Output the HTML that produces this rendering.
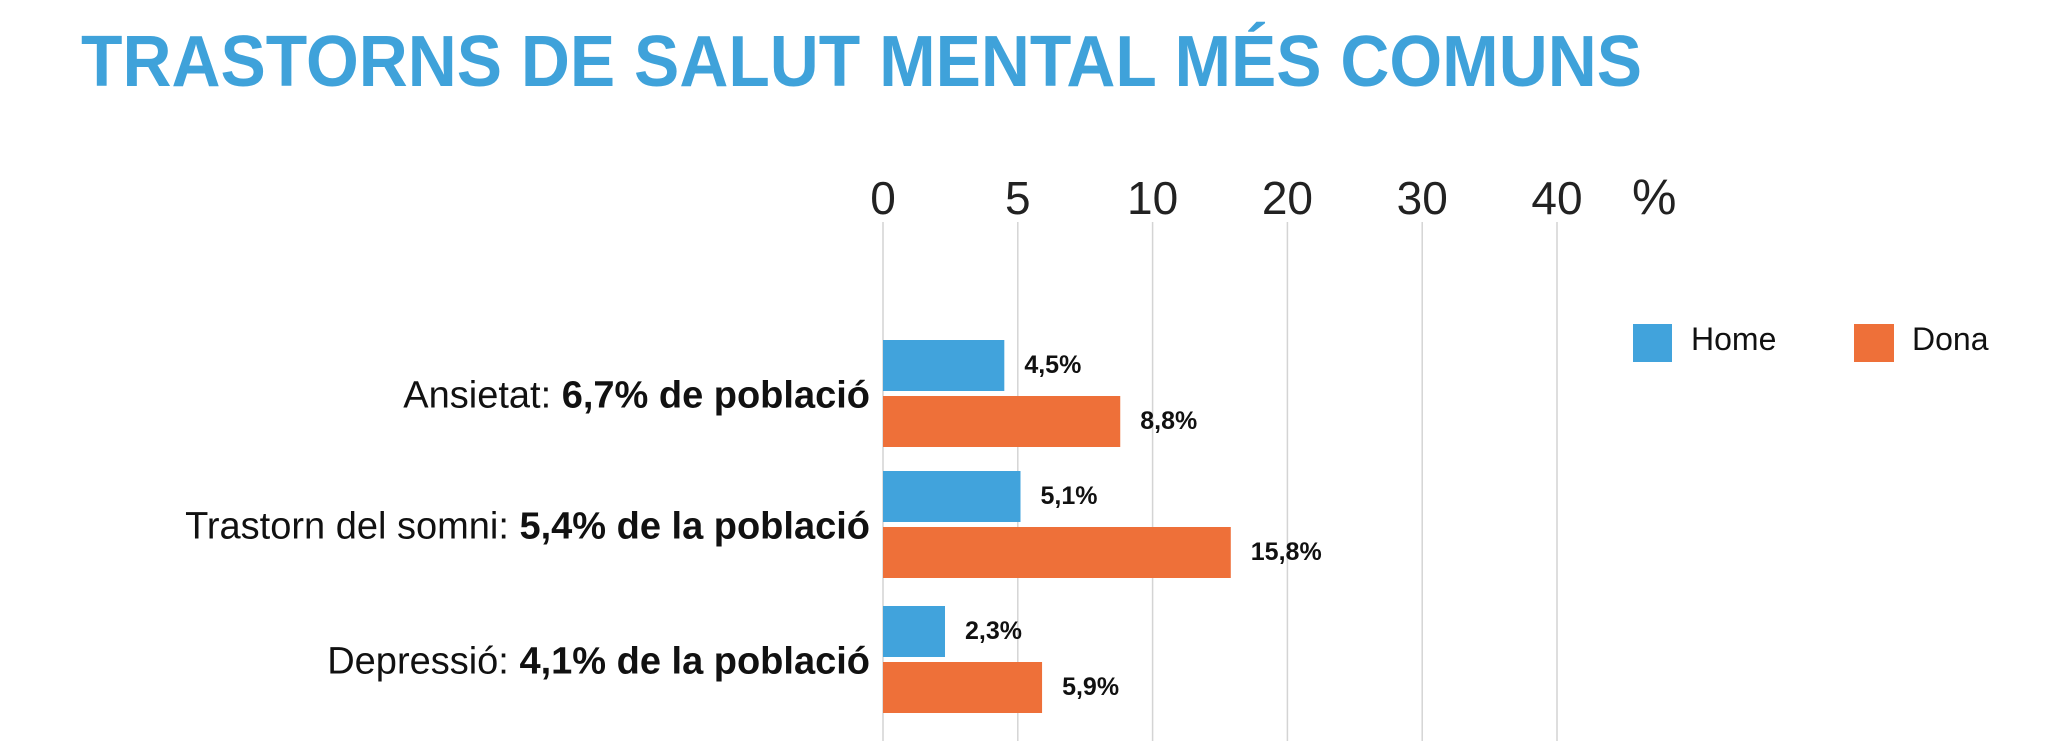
<!DOCTYPE html>
<html><head><meta charset="utf-8"><style>
html,body{margin:0;padding:0;background:#fff;width:2052px;height:741px;overflow:hidden}
svg{display:block}
</style></head><body>
<svg id="chart" width="2052" height="741" viewBox="0 0 2052 741" xmlns="http://www.w3.org/2000/svg">
<text x="81" y="86" font-family="Liberation Sans, sans-serif" font-weight="bold" font-size="72" fill="#3fa2da" textLength="1561" lengthAdjust="spacingAndGlyphs">TRASTORNS DE SALUT MENTAL MÉS COMUNS</text>
<g id="grid"></g>
<g id="bars"></g>
<g id="legend">
<rect x="1633" y="324" width="39" height="38" fill="#41a3dc"/>
<text x="1691" y="350" font-family="Liberation Sans, sans-serif" font-size="32" fill="#111">Home</text>
<rect x="1854" y="324" width="40" height="38" fill="#ee7039"/>
<text x="1912" y="350" font-family="Liberation Sans, sans-serif" font-size="32" fill="#111">Dona</text>
</g>
</svg>
<script>
const ticks = [0, 5, 10, 20, 30, 40];
const tickLabels = ["0", "5", "10", "20", "30", "40"];
const categoriesPlain = ["Ansietat: ", "Trastorn del somni: ", "Depressió: "];
const categoriesBold = ["6,7% de població", "5,4% de la població", "4,1% de la població"];
const homeValues = [4.5, 5.1, 2.3];
const donaValues = [8.8, 15.8, 5.9];
const homeLabels = ["4,5%", "5,1%", "2,3%"];
const donaLabels = ["8,8%", "15,8%", "5,9%"];

const NS = "http://www.w3.org/2000/svg";
const x0 = 883, tickStep = 134.8;
function xScale(v) {
  for (let i = 0; i < ticks.length - 1; i++) {
    if (v <= ticks[i + 1]) return x0 + (i + (v - ticks[i]) / (ticks[i + 1] - ticks[i])) * tickStep;
  }
  return x0 + (ticks.length - 1) * tickStep;
}
const groupTop = [340, 471, 606], barH = 51, gap = 5;
function mk(tag, attrs, parent) {
  const e = document.createElementNS(NS, tag);
  for (const k in attrs) e.setAttribute(k, attrs[k]);
  parent.appendChild(e);
  return e;
}
const grid = document.getElementById("grid");
ticks.forEach((t, i) => {
  const x = xScale(t);
  const l = mk("line", {x1: x, x2: x, y1: 222, y2: 741, stroke: "#d4d4d4", "stroke-width": 1.5}, grid);
  
  
  const tx = mk("text", {x: x, y: 214, "text-anchor": "middle", "font-family": "Liberation Sans, sans-serif", "font-size": "46", "font-weight": "300", fill: "#222"}, grid);
  tx.textContent = tickLabels[i];
  
  
});
const pct = mk("text", {x: 1632, y: 214, "font-family": "Liberation Sans, sans-serif", "font-size": "50", fill: "#222"}, grid);
pct.textContent = "%";



const bars = document.getElementById("bars");
categoriesPlain.forEach((c, i) => {
  const top = groupTop[i];
  const yH = top, yD = top + barH + gap;
  const bh = mk("rect", {x: x0, y: yH, width: xScale(homeValues[i]) - x0, height: barH, fill: "#41a3dc"}, bars);
  
  
  const bd = mk("rect", {x: x0, y: yD, width: xScale(donaValues[i]) - x0, height: barH, fill: "#ee7039"}, bars);
  
  
  const lh = mk("text", {x: xScale(homeValues[i]) + 20, y: yH + 33, "font-family": "Liberation Sans Narrow, Liberation Sans, sans-serif", "font-weight": "bold", "font-size": "25", fill: "#111"}, bars);
  lh.textContent = homeLabels[i];
  
  
  const ld = mk("text", {x: xScale(donaValues[i]) + 20, y: yD + 33, "font-family": "Liberation Sans Narrow, Liberation Sans, sans-serif", "font-weight": "bold", "font-size": "25", fill: "#111"}, bars);
  ld.textContent = donaLabels[i];
  
  
  const cl = mk("text", {x: 870, y: top + barH + gap / 2 + 14, "text-anchor": "end", "font-family": "Liberation Sans, sans-serif", "font-size": "38", fill: "#111"}, bars);
  
  
  const s1 = mk("tspan", {}, cl);
  s1.textContent = c;
  const s2 = mk("tspan", {"font-weight": "bold"}, cl);
  s2.textContent = categoriesBold[i];
});
</script>
</body></html>
